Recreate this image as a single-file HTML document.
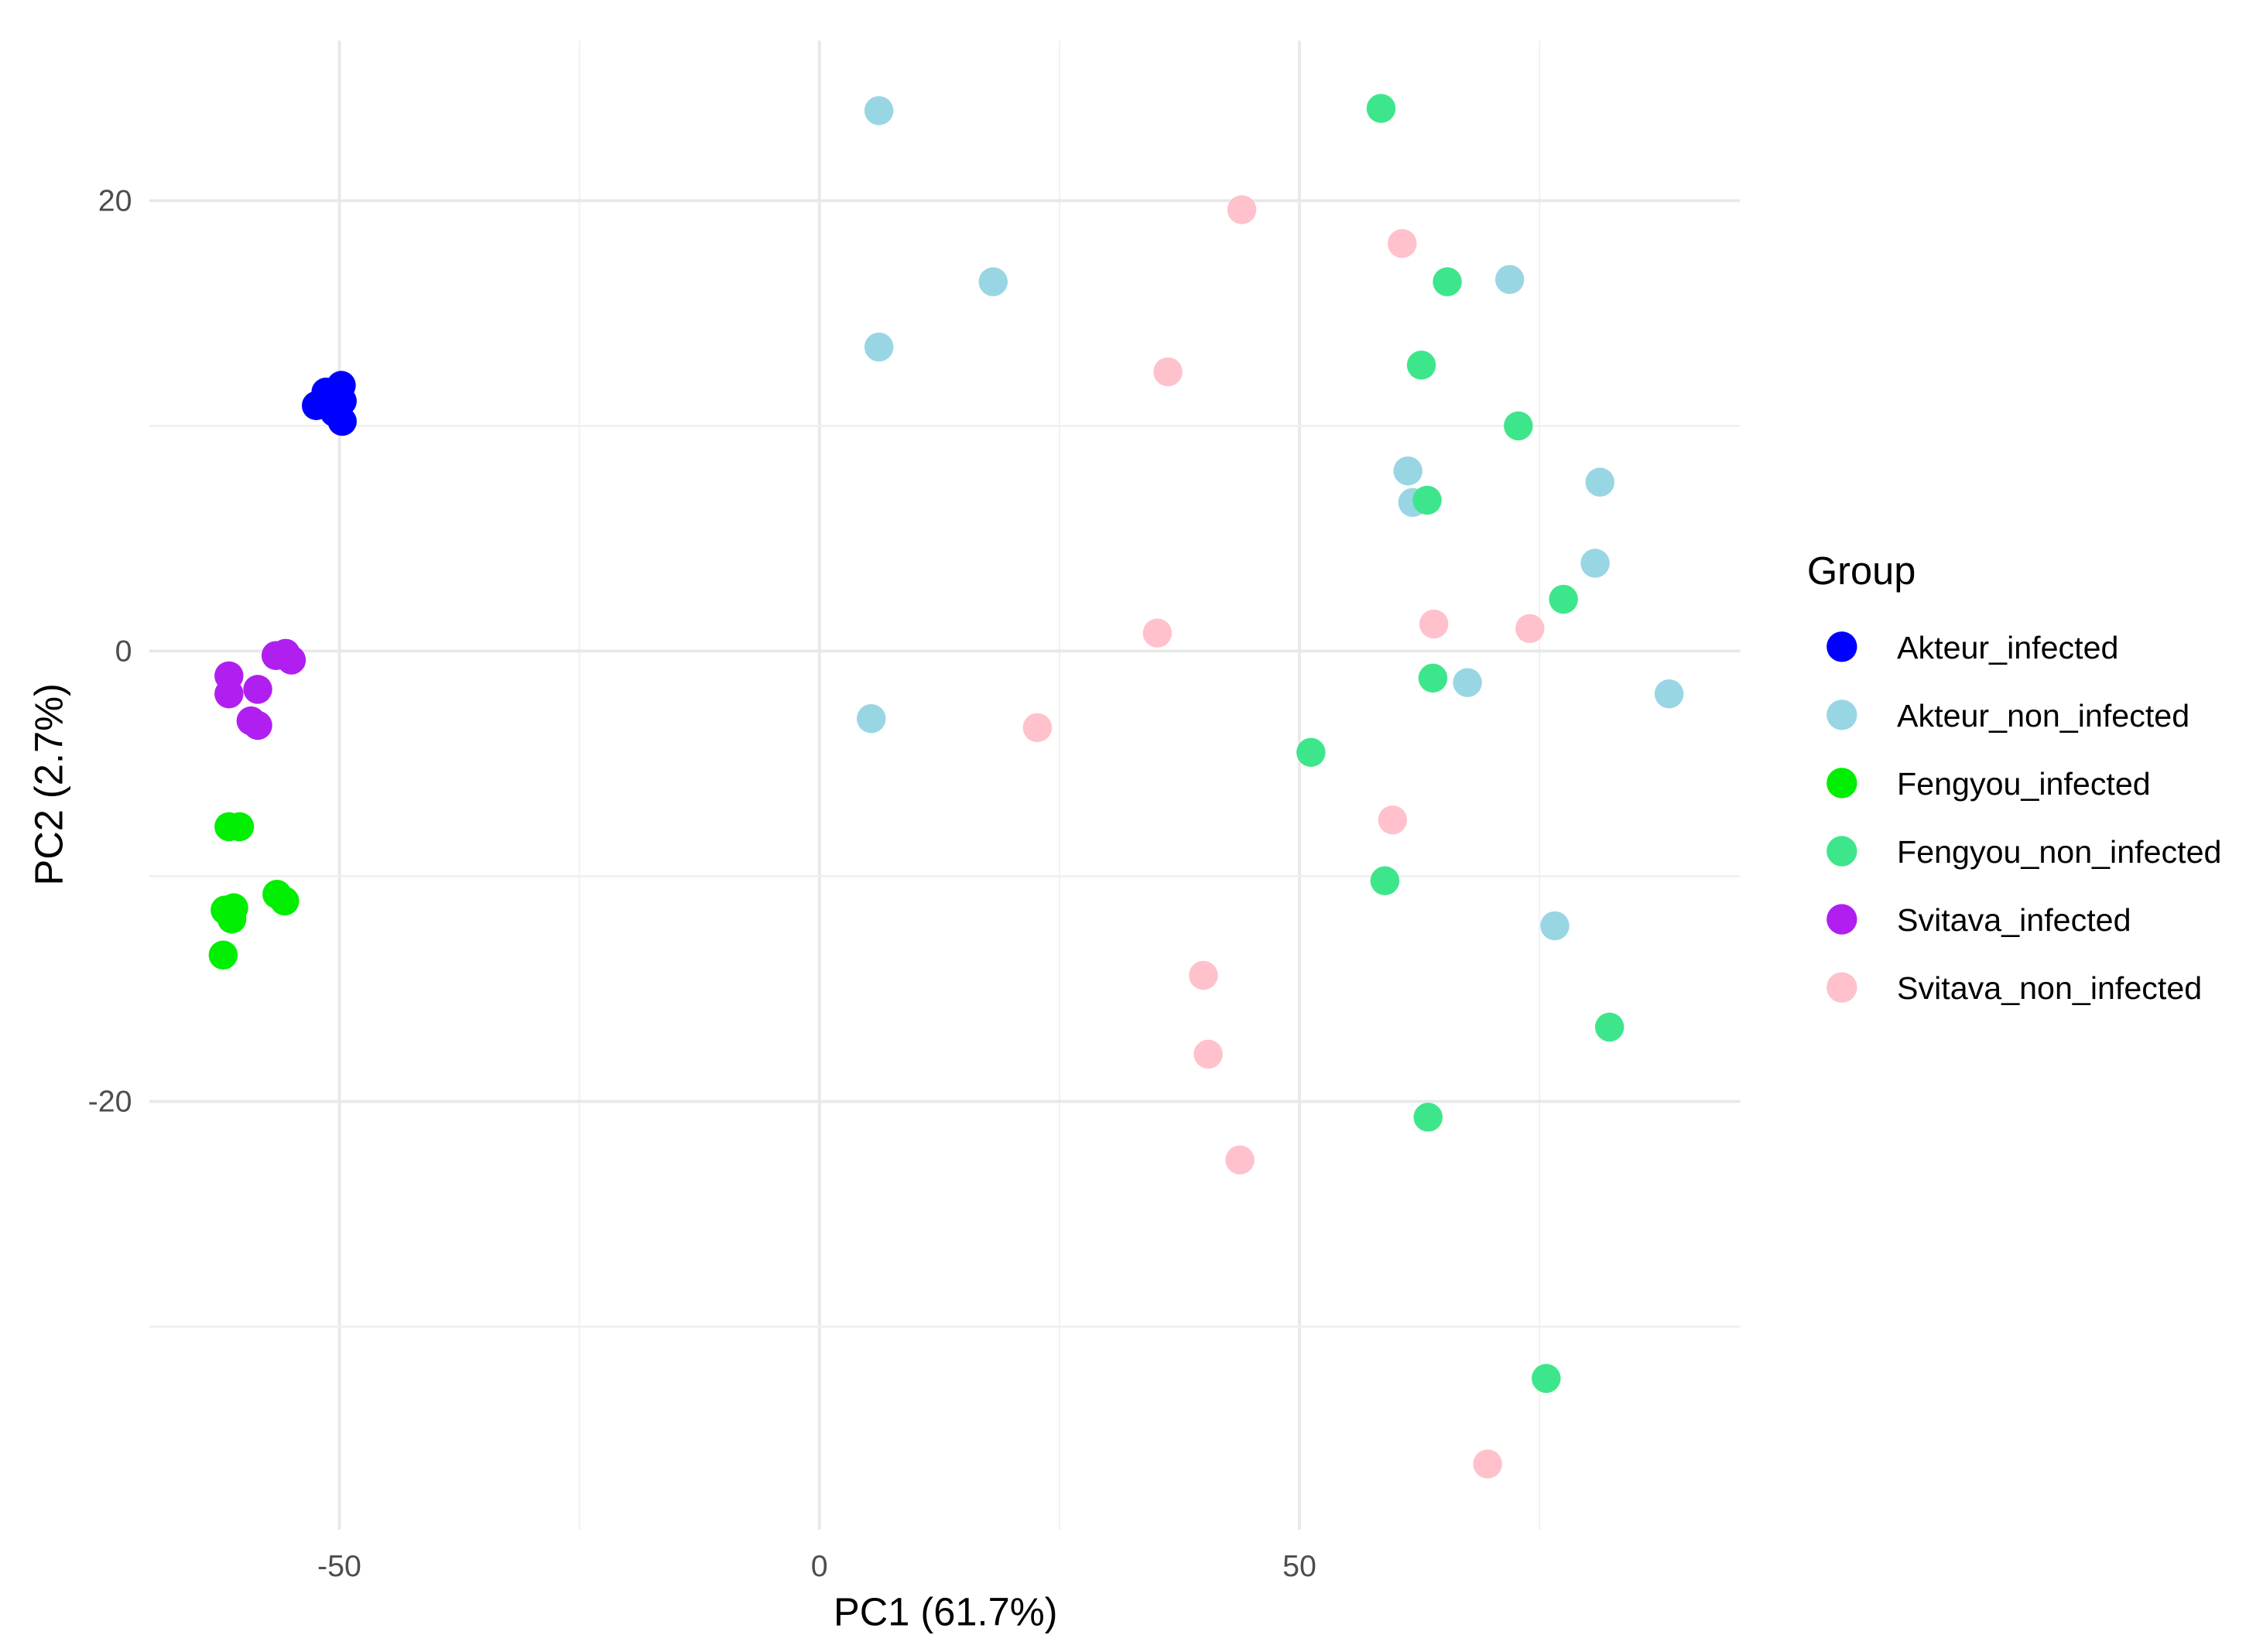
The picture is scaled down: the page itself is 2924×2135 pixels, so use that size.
<!DOCTYPE html>
<html><head><meta charset="utf-8"><style>
html,body{margin:0;padding:0;background:#fff;}
svg{display:block;font-family:"Liberation Sans",Arial,sans-serif;}
</style></head><body>
<svg id="chart" width="2924" height="2135" viewBox="0 0 1560.4 1139.3" xmlns="http://www.w3.org/2000/svg">
<rect width="1560.4" height="1139.3" fill="#fff"/>
<g id="grid"></g>
<g id="points"></g>
<g id="ticks"></g>
<text x="652" y="1121" font-size="27" text-anchor="middle" fill="#000">PC1 (61.7%)</text>
<text transform="translate(43,541) rotate(-90)" font-size="27" text-anchor="middle" fill="#000">PC2 (2.7%)</text>
<g id="legend">
<text x="1246" y="403" font-size="27" fill="#000">Group</text>
</g>
</svg>
<script>
const groups=["Akteur_infected","Akteur_non_infected","Fengyou_infected","Fengyou_non_infected","Svitava_infected","Svitava_non_infected"];
const colors=["#0000ff","#99d6e4","#00ee00","#3ee68b","#b01ff0","#ffc1cc"];
const xTicks=[-50,0,50];
const yTicks=[-20,0,20];
const akteurInfX=[-49.8,-51.4,-52.4,-49.7,-49.7,-50.5];
const akteurInfY=[11.8,11.5,10.9,11.1,10.2,10.6];
const akteurNonX=[6.2,18.1,6.2,71.9,61.3,61.8,81.3,80.8,67.5,88.5,5.4,76.6];
const akteurNonY=[24.0,16.4,13.5,16.5,8.0,6.6,7.5,3.9,-1.4,-1.9,-3.0,-12.2];
const fengInfX=[-61.5,-60.4,-61.9,-61.0,-61.2,-56.5,-55.7,-62.1];
const fengInfY=[-7.8,-7.8,-11.5,-11.4,-11.9,-10.8,-11.1,-13.5];
const fengNonX=[58.5,65.4,62.7,72.8,63.3,77.5,63.9,51.2,58.9,82.3,63.4,75.7];
const fengNonY=[24.1,16.4,12.7,10.0,6.7,2.3,-1.2,-4.5,-10.2,-16.7,-20.7,-32.3];
const svitInfX=[-61.5,-61.5,-58.5,-56.6,-55.6,-55.0,-59.2,-58.5];
const svitInfY=[-1.1,-1.9,-1.7,-0.2,-0.1,-0.4,-3.1,-3.3];
const svitNonX=[44.0,60.7,36.3,35.2,64.0,74.0,22.7,59.7,40.0,40.5,43.8,69.6];
const svitNonY=[19.6,18.1,12.4,0.8,1.2,1.0,-3.4,-7.5,-14.4,-17.9,-22.6,-36.1];
const seriesX=[akteurInfX,akteurNonX,fengInfX,fengNonX,svitInfX,svitNonX];
const seriesY=[akteurInfY,akteurNonY,fengInfY,fengNonY,svitInfY,svitNonY];

const NS="http://www.w3.org/2000/svg";
const PL=103,PR=1200,PT=28,PB=1055;
function sx(v){return 565+v*6.62;}
function sy(v){return 449-v*15.53;}
function mk(tag,attrs,parent){const e=document.createElementNS(NS,tag);for(const k in attrs)e.setAttribute(k,attrs[k]);parent.appendChild(e);return e;}
const grid=document.getElementById('grid');
for(let v=-75;v<=100;v+=25){const x=sx(v);if(x<PL||x>PR)continue;const major=v%50===0;
 const l=mk('line',{x1:x,x2:x,y1:PT,y2:PB,stroke:major?'#e8e8e8':'#f2f2f2','stroke-width':major?2:1.2},grid);
 
 }
for(let v=-40;v<=30;v+=10){const y=sy(v);if(y<PT||y>PB)continue;const major=v%20===0;
 const l=mk('line',{x1:PL,x2:PR,y1:y,y2:y,stroke:major?'#e8e8e8':'#f0f0f0','stroke-width':major?2:1.5},grid);
 
 }
const ticks=document.getElementById('ticks');
xTicks.forEach(v=>{const t=mk('text',{x:sx(v),y:1087,'font-size':21,'text-anchor':'middle',fill:'#4d4d4d'},ticks);t.textContent=v;
 
 });
yTicks.forEach(v=>{const t=mk('text',{x:91,y:sy(v)+7,'font-size':21,'text-anchor':'end',fill:'#4d4d4d'},ticks);t.textContent=v;
 
 });
const pts=document.getElementById('points');
seriesX.forEach((xs,g)=>{xs.forEach((xv,i)=>{const c=mk('circle',{cx:sx(xv),cy:sy(seriesY[g][i]),r:10,fill:colors[g]},pts);
 
 });});
const leg=document.getElementById('legend');
groups.forEach((gname,i)=>{const y=446+i*47;
 const c=mk('circle',{cx:1270,cy:y,r:10.5,fill:colors[i]},leg);
 
 
 const t=mk('text',{x:1308,y:y+8,'font-size':22,fill:'#000'},leg);t.textContent=gname;
 
 });
</script>
</body></html>
